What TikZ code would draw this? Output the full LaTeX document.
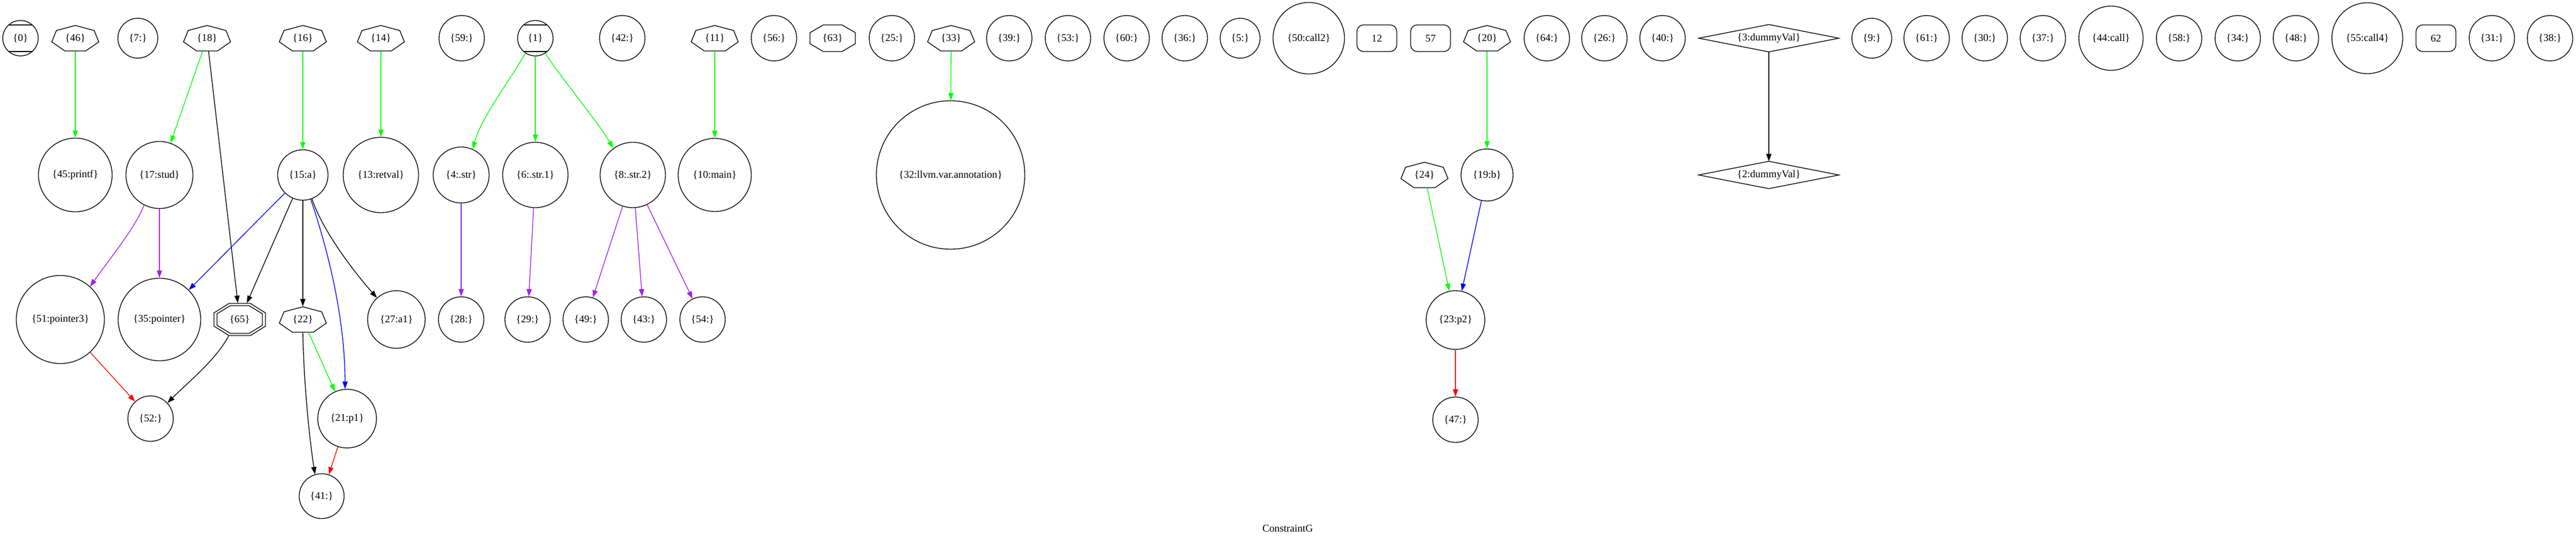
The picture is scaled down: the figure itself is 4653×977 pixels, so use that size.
\documentclass[tikz,border=0pt]{standalone}
\usepackage{fontspec}
\setmainfont{Liberation Serif}
\usetikzlibrary{arrows.meta,calc}
\definecolor{ggreen}{RGB}{0,255,0}
\definecolor{gpurple}{RGB}{160,32,240}
\definecolor{gblue}{RGB}{0,0,255}
\definecolor{gred}{RGB}{255,0,0}
\newcommand{\mySept}[1]{\draw[shift={(#1.center)}] (0,-23) -- (34.1,-13.9) -- (42.5,6.6) -- (18.9,23) -- (-18.9,23) -- (-42.5,6.6) -- (-34.1,-13.9) -- cycle;}
\newcommand{\myOct}[5]{\draw[shift={(#1.center)}] (-#2,-#3) -- (#2,-#3) -- (#4,-#5) -- (#4,#5) -- (#2,#3) -- (-#2,#3) -- (-#4,#5) -- (-#4,-#5) -- cycle;}
\newcommand{\myMchords}[3]{\draw[shift={(#1.center)}] (-#2,-#3) -- (#2,-#3) (-#2,#3) -- (#2,#3);}
\begin{document}
\begin{tikzpicture}[x=0.75pt,y=-0.75pt,line width=1pt,
  every node/.style={font=\fontsize{14pt}{17pt}\selectfont},
  cn/.style={circle,draw,inner sep=0pt,minimum size=#1},
  sept/.style={rectangle,inner sep=0pt,minimum width=63.75pt,minimum height=34.5pt},
  octbox/.style={rectangle,inner sep=0pt,minimum width=61.5pt,minimum height=36pt},
  doctbox/.style={rectangle,inner sep=0pt,minimum width=69.75pt,minimum height=43.5pt},
  rbox/.style={rectangle,draw,rounded corners=9pt,inner sep=0pt,minimum width=54pt,minimum height=36pt},
  dbox/.style={rectangle,inner sep=0pt,minimum width=189pt,minimum height=36pt},
  conn/.style={-{Triangle[length=10pt,width=7pt]},line width=1pt},
  cg/.style={conn,draw=ggreen},
  cp/.style={conn,draw=gpurple},
  cb/.style={conn,draw=gblue},
  cr/.style={conn,draw=gred},
  ck/.style={conn,draw=black}]
\useasboundingbox (0,0) rectangle (4653,977);
% ---------- row 1 ----------
\node[cn=48pt] (n0) at (37,69) {\{0\}};
\myMchords{n0}{21.5}{24}
\node[sept] (n46) at (136,69) {\{46\}}; \mySept{n46}
\node[cn=54pt] (n7) at (249,69) {\{7:\}};
\node[sept] (n18) at (374,69) {\{18\}}; \mySept{n18}
\node[sept] (n16) at (547,69) {\{16\}}; \mySept{n16}
\node[sept] (n14) at (688,69) {\{14\}}; \mySept{n14}
\node[cn=61.5pt] (n59) at (834,69) {\{59:\}};
\node[cn=48pt] (n1) at (967,69) {\{1\}};
\myMchords{n1}{21.2}{24}
\node[cn=61.5pt] (n42) at (1124,69) {\{42:\}};
\node[sept] (n11) at (1291,69) {\{11\}}; \mySept{n11}
\node[cn=61.5pt] (n56) at (1398,69) {\{56:\}};
\node[octbox] (n63) at (1504,69) {\{63\}}; \myOct{n63}{17}{24}{41}{10}
\node[cn=61.5pt] (n25) at (1611,69) {\{25:\}};
\node[sept] (n33) at (1718,69) {\{33\}}; \mySept{n33}
\node[cn=61.5pt] (n39) at (1823,69) {\{39:\}};
\node[cn=61.5pt] (n53) at (1929,69) {\{53:\}};
\node[cn=61.5pt] (n60) at (2035,69) {\{60:\}};
\node[cn=61.5pt] (n36) at (2140,69) {\{36:\}};
\node[cn=54pt] (n5) at (2240,69) {\{5:\}};
\node[cn=96.75pt] (n50) at (2364,69) {\{50:call2\}};
\node[rbox] (n12) at (2487,69) {12};
\node[rbox] (n57) at (2584,69) {57};
\node[sept] (n20) at (2686,69) {\{20\}}; \mySept{n20}
\node[cn=61.5pt] (n64) at (2794,69) {\{64:\}};
\node[cn=61.5pt] (n26) at (2898,69) {\{26:\}};
\node[cn=61.5pt] (n40) at (3003,69) {\{40:\}};
\node[dbox] (n3) at (3195,69) {\{3:dummyVal\}};
\draw (n3.north) -- (n3.east) -- (n3.south) -- (n3.west) -- cycle;
\node[cn=54pt] (n9) at (3381,69) {\{9:\}};
\node[cn=61.5pt] (n61) at (3480,69) {\{61:\}};
\node[cn=61.5pt] (n30) at (3585,69) {\{30:\}};
\node[cn=61.5pt] (n37) at (3690,69) {\{37:\}};
\node[cn=87pt] (n44) at (3813,69) {\{44:call\}};
\node[cn=61.5pt] (n58) at (3936,69) {\{58:\}};
\node[cn=61.5pt] (n34) at (4042,69) {\{34:\}};
\node[cn=61.5pt] (n48) at (4147,69) {\{48:\}};
\node[cn=96pt] (n55) at (4276,69) {\{55:call4\}};
\node[rbox] (n62) at (4400,69) {62};
\node[cn=61.5pt] (n31) at (4501,69) {\{31:\}};
\node[cn=61.5pt] (n38) at (4606,69) {\{38:\}};
% ---------- row 2 ----------
\node[cn=99.75pt] (n45) at (136,316) {\{45:printf\}};
\node[cn=90.75pt] (n17) at (288,316) {\{17:stud\}};
\node[cn=68.25pt] (n15) at (547,316) {\{15:a\}};
\node[cn=102pt] (n13) at (688,316) {\{13:retval\}};
\node[cn=75.75pt] (n4) at (833,316) {\{4:.str\}};
\node[cn=88.5pt] (n6) at (967,316) {\{6:.str.1\}};
\node[cn=88.5pt] (n8) at (1143,316) {\{8:.str.2\}};
\node[cn=99pt] (n10) at (1291,316) {\{10:main\}};
\node[cn=201pt] (n32) at (1717,316) {\{32:llvm.var.annotation\}};
\node[sept] (n24) at (2573,316) {\{24\}}; \mySept{n24}
\node[cn=70.5pt] (n19) at (2686,316) {\{19:b\}};
\node[dbox] (n2) at (3195,316) {\{2:dummyVal\}};
\draw (n2.north) -- (n2.east) -- (n2.south) -- (n2.west) -- cycle;
% ---------- row 3 ----------
\node[cn=119.25pt] (n51) at (109,577) {\{51:pointer3\}};
\node[cn=111.75pt] (n35) at (288,577) {\{35:pointer\}};
\node[doctbox] (n65) at (433,577) {\{65\}};
\myOct{n65}{19.3}{29}{46.5}{12}
\myOct{n65}{17}{25}{41}{10.4}
\node[sept] (n22) at (547,577) {\{22\}}; \mySept{n22}
\node[cn=78pt] (n27) at (716,577) {\{27:a1\}};
\node[cn=61.5pt] (n28) at (833,577) {\{28:\}};
\node[cn=61.5pt] (n29) at (953,577) {\{29:\}};
\node[cn=61.5pt] (n49) at (1058,577) {\{49:\}};
\node[cn=61.5pt] (n43) at (1163,577) {\{43:\}};
\node[cn=61.5pt] (n54) at (1269,577) {\{54:\}};
\node[cn=79.5pt] (n23) at (2629,578) {\{23:p2\}};
% ---------- rows 4-5 ----------
\node[cn=61.5pt] (n52) at (272,756) {\{52:\}};
\node[cn=79.5pt] (n21) at (627,756) {\{21:p1\}};
\node[cn=61.5pt] (n47) at (2629,758) {\{47:\}};
\node[cn=60.75pt] (n41) at (581,896) {\{41:\}};
% ---------- title ----------
\node[anchor=base,inner sep=0pt] (title) at (2326,960.7) {ConstraintG};
% ---------- edges ----------
\draw[cg] (n46) -- (n45);
\draw[cg] (n18) -- (n17);
\draw[ck] (n18) -- (n65);
\draw[cg] (n16) -- (n15);
\draw[cg] (n14) -- (n13);
\draw[cp] (n17.-117) .. controls (245,410) and (200,465) .. (n51.48.5);
\draw[cp] (n17) -- (n35);
\draw[cb] (n15) -- (n35);
\draw[ck] (n15) -- (n65);
\draw[ck] (n15) -- (n22);
\draw[cb] (n15.-72) .. controls (585,430) and (623,560) .. (n21.94);
\draw[ck] (n15.-69) .. controls (580,410) and (630,480) .. (n27.132);
\draw[cr] (n51) -- (n52);
\draw[ck] (n65.-124.6) .. controls (390,650) and (340,690) .. (n52.43);
\draw[cg] (n22) -- (n21);
\draw[ck] (n22.south) .. controls (549,700) and (560,800) .. (n41.107);
\draw[cr] (n21) -- (n41);
\draw[cg] (n1.-124) .. controls (925,140) and (870,210) .. (n4.66);
\draw[cg] (n1) -- (n6);
\draw[cg] (n1.-56.4) .. controls (1005,130) and (1080,220) .. (n8.126.7);
\draw[cg] (n11) -- (n10);
\draw[cp] (n4) -- (n28);
\draw[cp] (n6) -- (n29);
\draw[cp] (n8) -- (n49);
\draw[cp] (n8) -- (n43);
\draw[cp] (n8) -- (n54);
\draw[cg] (n33) -- (n32);
\draw[cg] (n20) -- (n19);
\draw[cg] (n24) -- (n23);
\draw[cb] (n19) -- (n23);
\draw[cr] (n23) -- (n47);
\draw[ck] (n3) -- (n2);
\end{tikzpicture}
\end{document}
